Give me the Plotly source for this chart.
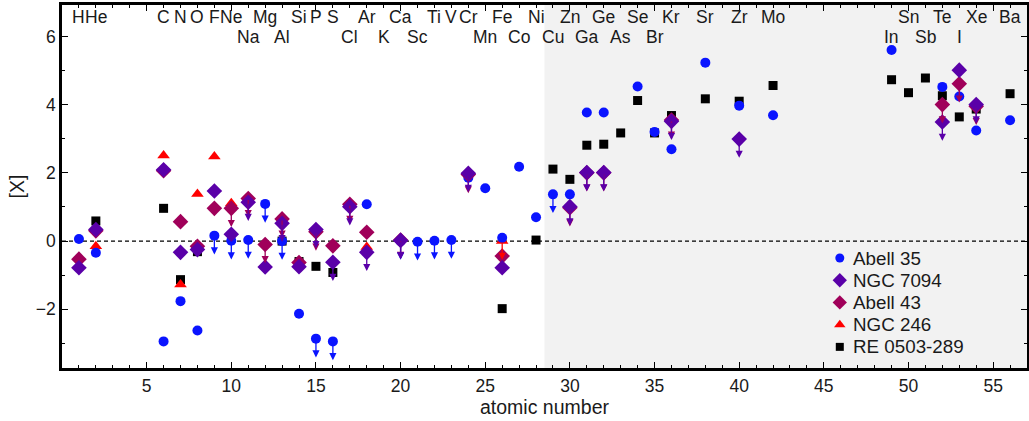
import plotly.graph_objects as go

# ---------------- data ----------------
a35_z = [1, 2, 6, 7, 8, 9, 10, 11, 12, 13, 14, 15, 16, 18, 20, 21, 22, 23, 24, 25, 26, 27, 28, 29, 30,
         31, 32, 34, 35, 36, 38, 40, 42, 49, 52, 53, 54, 56]
a35_v = [0.06, -0.34, -2.94, -1.76, -2.62, 0.16, 0.01, 0.03, 1.09, 0.0, -2.13, -2.86, -2.94, 1.08, 0.0,
         -0.02, 0.01, 0.03, 1.86, 1.55, 0.10, 2.18, 0.70, 1.37, 1.37, 3.77, 3.77, 4.53, 3.20, 2.69, 5.23,
         3.97, 3.69, 5.60, 4.52, 4.24, 3.24, 3.54]
a35_lim = [0, 0, 0, 0, 0, 1, 1, 1, 1, 1, 0, 1, 1, 0, 1, 1, 1, 1, 0, 0, 0, 0, 0, 1, 0,
           0, 0, 0, 0, 0, 0, 0, 0, 0, 0, 0, 0, 0]

n7094_z = [1, 2, 6, 7, 8, 9, 10, 11, 12, 13, 14, 15, 16, 17, 18, 20, 24, 26, 30, 31, 32, 36, 40, 52, 53, 54]
n7094_v = [-0.78, 0.34, 2.09, -0.33, -0.25, 1.47, 0.20, 1.14, -0.76, 0.52, -0.75, 0.34, -0.62, 1.01,
           -0.33, 0.02, 1.99, -0.78, 1.01, 2.01, 2.01, 3.51, 2.99, 3.49, 5.01, 4.00]
n7094_lim = [0, 0, 0, 0, 0, 0, 0, 1, 0, 1, 0, 1, 1, 1, 1, 1, 1, 0, 1, 1, 1, 1, 1, 1, 0, 1]

a43_z = [1, 2, 6, 7, 8, 9, 10, 11, 12, 13, 14, 15, 16, 17, 18, 20, 24, 26, 30, 31, 32, 36, 52, 53, 54]
a43_v = [-0.53, 0.30, 2.06, 0.57, -0.15, 0.96, 0.96, 1.25, -0.10, 0.65, -0.63, 0.27, -0.14, 1.08, 0.26,
         0.03, 1.95, -0.44, 0.98, 2.00, 2.00, 3.55, 4.00, 4.61, 3.95]
a43_lim = [0, 0, 0, 0, 0, 0, 1, 1, 1, 1, 0, 1, 0, 1, 0, 1, 1, 0, 1, 1, 1, 1, 1, 1, 1]

n246_z = [2, 6, 7, 8, 9, 10, 18, 26]
n246_v = [-0.15, 2.51, -1.27, 1.38, 2.48, 1.11, -0.17, 0.0]
n246_lim = [0, 0, 0, 0, 0, 0, 0, 1]

re_z = [2, 6, 7, 8, 13, 14, 15, 16, 26, 28, 29, 30, 31, 32, 33, 34, 35, 36, 38, 40, 42, 49, 50, 51, 52,
        53, 54, 56]
re_v = [0.59, 0.96, -1.13, -0.31, 0.0, -0.60, -0.74, -0.92, -1.98, 0.03, 2.11, 1.81, 2.81, 2.84, 3.17,
        4.12, 3.17, 3.68, 4.17, 4.10, 4.56, 4.73, 4.35, 4.78, 4.26, 3.64, 3.87, 4.32]

elem_z = [1, 2, 6, 7, 8, 9, 10, 11, 12, 13, 14, 15, 16, 17, 18, 19, 20, 21, 22, 23, 24, 25, 26, 27, 28,
          29, 30, 31, 32, 33, 34, 35, 36, 38, 40, 42, 49, 50, 51, 52, 53, 54, 56]
elem_sym = ["H", "He", "C", "N", "O", "F", "Ne", "Na", "Mg", "Al", "Si", "P", "S", "Cl", "Ar", "K", "Ca",
            "Sc", "Ti", "V", "Cr", "Mn", "Fe", "Co", "Ni", "Cu", "Zn", "Ga", "Ge", "As", "Se", "Br", "Kr",
            "Sr", "Zr", "Mo", "In", "Sn", "Sb", "Te", "I", "Xe", "Ba"]
lower_row = {"Na", "Al", "Cl", "K", "Sc", "Mn", "Co", "Cu", "Ga", "As", "Br", "In", "Sb", "I"}

legend_names = ["Abell 35", "NGC 7094", "Abell 43", "NGC 246", "RE 0503-289"]

x_ticks = [5, 10, 15, 20, 25, 30, 35, 40, 45, 50, 55]
y_ticks = [-2, 0, 2, 4, 6]

# ---------------- style ----------------
FONT = "Liberation Sans, Arial, Helvetica, sans-serif"
STYLE = {
    "Abell 35": dict(color="#0a14ff", symbol="circle", size=10, lsize=9),
    "NGC 7094": dict(color="#5a00a8", symbol="diamond", size=12, lsize=11),
    "Abell 43": dict(color="#a0005a", symbol="diamond", size=12, lsize=11),
    "NGC 246": dict(color="#ff0000", symbol="triangle-up", size=11, lsize=10),
    "RE 0503-289": dict(color="#000000", symbol="square", size=9, lsize=8),
}
ARROW = 0.55
FS = 17.5
FS_BIG = 19.5
FS_LEG = 18.8
LEG_MX, LEG_TX, LEG_Y0, LEG_DY = 0.806, 0.818, 0.303, 0.0612

fig = go.Figure()

# drawing order (bottom -> top)
series = [
    ("RE 0503-289", re_z, re_v, [0] * len(re_z)),
    ("NGC 246", n246_z, n246_v, n246_lim),
    ("Abell 35", a35_z, a35_v, a35_lim),
    ("Abell 43", a43_z, a43_v, a43_lim),
    ("NGC 7094", n7094_z, n7094_v, n7094_lim),
]

annotations = []
for name, zs, vs, lims in series:
    st = STYLE[name]
    fig.add_trace(go.Scatter(
        x=zs, y=vs, mode="markers", name=name, showlegend=False,
        marker=dict(symbol=st["symbol"], size=st["size"], color=st["color"], line=dict(width=0)),
    ))
    for z, v, l in zip(zs, vs, lims):
        if l:
            annotations.append(dict(
                x=z, y=v - ARROW, ax=z, ay=v, xref="x", yref="y", axref="x", ayref="y",
                text="", showarrow=True, arrowhead=2, arrowsize=1.1, arrowwidth=1.3,
                arrowcolor=st["color"], standoff=0, startstandoff=0,
            ))

# key (legend) drawn on an invisible overlay axis spanning the plot area
for i, name in enumerate(legend_names):
    st = STYLE[name]
    yk = LEG_Y0 - i * LEG_DY
    fig.add_trace(go.Scatter(
        x=[LEG_MX], y=[yk], xaxis="x2", yaxis="y2", mode="markers", name=name,
        showlegend=False, hoverinfo="skip",
        marker=dict(symbol=st["symbol"], size=st["lsize"], color=st["color"], line=dict(width=0)),
    ))
    annotations.append(dict(
        x=LEG_TX, y=yk, xref="paper", yref="paper", text=name, showarrow=False,
        xanchor="left", yanchor="middle", font=dict(family=FONT, size=FS_LEG, color="#1a1a1a"),
    ))

for z, s in zip(elem_z, elem_sym):
    low = s in lower_row
    annotations.append(dict(
        x=z, y=0.913 if low else 0.966, xref="x", yref="paper", text=s, showarrow=False,
        font=dict(family=FONT, size=FS, color="#1a1a1a"), xanchor="center", yanchor="middle",
    ))

shapes = [
    dict(type="rect", xref="x", yref="paper", x0=28.5, x1=57, y0=0, y1=1,
         fillcolor="#f2f2f2", line=dict(width=0), layer="below"),
    dict(type="line", xref="paper", yref="y", x0=0, x1=1, y0=0, y1=0,
         line=dict(color="black", width=1.2, dash="4px,3px"), layer="below"),
]

axis_common = dict(
    showline=True, linewidth=2.5, linecolor="black", mirror="allticks",
    ticks="inside", ticklen=6, tickwidth=1.2, tickcolor="black",
    showgrid=False, zeroline=False, automargin=False,
    tickfont=dict(family=FONT, size=FS, color="#1a1a1a"),
)

fig.update_layout(
    width=1029, height=421,
    margin=dict(l=62, r=2, t=5, b=53, autoexpand=False),
    paper_bgcolor="white", plot_bgcolor="white",
    font=dict(family=FONT, size=FS, color="#1a1a1a"),
    xaxis=dict(range=[0, 57], tickvals=x_ticks,
               minor=dict(dtick=1, tick0=0, ticklen=3, ticks="inside", tickcolor="black"),
               title=dict(text="atomic number", font=dict(family=FONT, size=FS_BIG), standoff=6),
               **axis_common),
    yaxis=dict(range=[-3.72, 6.92], tickvals=y_ticks, ticktext=["\u22122", "0", "2", "4", "6"],
               minor=dict(dtick=1, tick0=0, ticklen=3, ticks="inside", tickcolor="black"),
               title=dict(text="[X]", font=dict(family=FONT, size=FS_BIG), standoff=6),
               **axis_common),
    xaxis2=dict(overlaying="x", range=[0, 1], visible=False, fixedrange=True),
    yaxis2=dict(overlaying="y", range=[0, 1], visible=False, fixedrange=True),
    shapes=shapes,
    annotations=annotations,
    showlegend=False,
)

fig.write_html("out.html", config={"displayModeBar": False},
               post_script="document.body.style.margin='0';document.body.style.overflow='hidden';")
